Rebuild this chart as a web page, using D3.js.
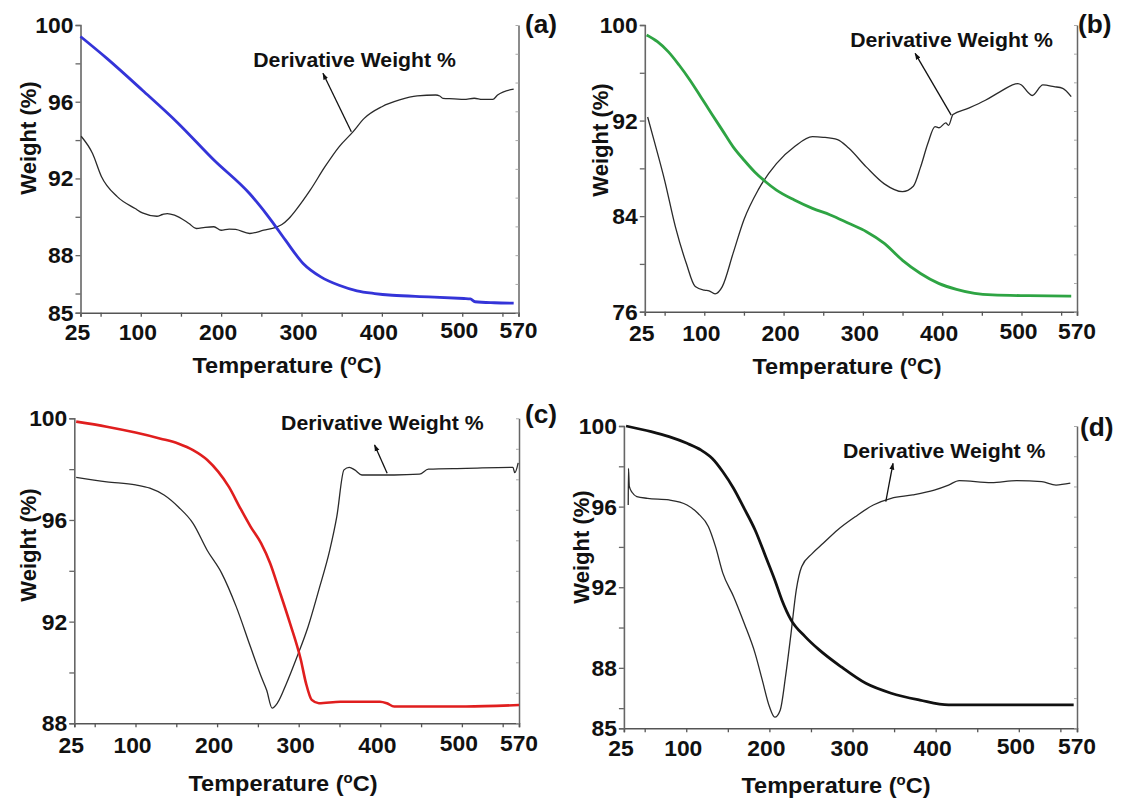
<!DOCTYPE html>
<html><head><meta charset="utf-8">
<script src="https://cdn.jsdelivr.net/npm/d3@7"></script>
<style>
html,body{margin:0;padding:0;background:#fff;}
text{font-family:"Liberation Sans",Arial,sans-serif;font-weight:bold;fill:#111;}
</style></head>
<body><svg id="chart" width="1126" height="801"></svg>
<script>
// ---------------- DATA ----------------
const xTickLabels = [25, 100, 200, 300, 400, 500, 570];
const xMinorTicks = [50, 150, 250, 350, 450, 550];

// (a) TGA (temperature °C, weight %)
const tgaA = [[25,99.4],[57.8,98.26],[102,96.6],[146.7,94.87],[191,92.96],[235.6,91.2],[262,89.83],[280,88.78],[302,87.57],[324,86.87],[346.7,86.43],[369,86.14],[391,86.0],[413,85.91],[458,85.83],[502,85.74],[510,85.72],[516,85.57],[540,85.52],[564,85.5]];
// (a) derivative curve (plotted on the weight-equivalent scale)
const derivA = [[25.8,94.2],[40,93.3],[51,92.1],[71,91.04],[93,90.43],[102,90.2],[120,90.03],[127,90.12],[133,90.17],[142,90.09],[160,89.65],[169,89.39],[180,89.45],[191,89.48],[200,89.3],[210,89.36],[218,89.34],[235.6,89.13],[253,89.3],[268,89.45],[275.6,89.6],[284,89.9],[293,90.35],[311,91.4],[329,92.6],[346.7,93.65],[364,94.43],[378,95.13],[400,95.74],[422,96.09],[444,96.3],[467,96.35],[472,96.3],[476,96.17],[490,96.15],[502,96.12],[515,96.18],[525,96.12],[538,96.12],[544,96.35],[564,96.66]];

// (b)
const tgaB = [[27.3,99.16],[40.9,98.6],[54.5,97.77],[68.2,96.65],[81.8,95.4],[95.5,94.0],[109,92.6],[122.7,91.2],[136.4,89.8],[150,88.7],[163.6,87.7],[177.3,86.88],[191,86.18],[213.6,85.35],[236.4,84.65],[259,84.1],[282,83.4],[304.5,82.7],[327,81.72],[350,80.3],[372.7,79.2],[395.5,78.37],[418,77.87],[441,77.53],[463.6,77.4],[509,77.34],[562.7,77.31]];
const derivB = [[28.6,92.3],[36.4,90.4],[50,87.0],[63.6,83.1],[77.3,80.05],[88.6,78.1],[100,77.8],[106,77.75],[113.6,77.5],[122.7,78.1],[136.4,80.9],[150,83.7],[168,86.2],[191,88.4],[213.6,89.8],[236.4,90.65],[250,90.6],[268,90.4],[282,89.7],[304.5,88.1],[327,86.7],[350,86.05],[363.6,86.5],[372.7,88.1],[382,90.1],[391,91.5],[396,91.4],[404.5,91.8],[408,91.6],[413.6,92.5],[431.8,93.0],[454.5,93.7],[472.7,94.4],[495.5,95.1],[500,94.98],[509,94.3],[513.6,94.1],[527,94.98],[541,94.84],[552,94.7],[562.7,94.0]];

// (c)
const tgaC = [[27.3,99.87],[64.8,99.67],[100,99.44],[130.8,99.2],[152.9,99.0],[170.5,98.75],[188,98.36],[201.3,97.9],[214.5,97.3],[227.8,96.5],[241,95.74],[254,95.08],[265,94.3],[276,93.25],[289.4,91.93],[302.6,90.5],[309,89.57],[316,88.92],[324.7,88.79],[351,88.85],[399.6,88.85],[408,88.79],[417,88.66],[461,88.66],[505,88.66],[570,88.72]];
const derivC = [[27.3,97.68],[64.8,97.5],[100,97.38],[117.6,97.25],[135,96.98],[152.9,96.5],[170.5,95.87],[188,94.8],[205.7,93.9],[223.3,92.6],[241,91.0],[254,89.84],[260.8,89.3],[267.4,88.6],[274,88.8],[285,89.57],[298,90.62],[311.5,91.8],[324.7,93.25],[338,94.8],[346.7,96.13],[355.5,97.97],[362,98.07],[368.7,97.97],[377.5,97.77],[417,97.77],[448,97.8],[459,98.0],[505,98.03],[562.6,98.07],[564.8,97.86],[569,98.25]];

// (d)
const tgaD = [[27.6,100],[57.8,99.72],[79.3,99.47],[100.9,99.14],[118,98.8],[131,98.4],[144,97.73],[157,96.9],[169.8,95.9],[182.8,94.84],[195.7,93.5],[206.5,92.36],[215,91.37],[226,90.38],[243,89.55],[260,88.89],[286,88.06],[316,87.23],[346.5,86.74],[381,86.4],[415.5,86.16],[467,86.16],[566,86.16]];
const derivD = [[30.2,96.08],[30.5,97.9],[31.5,97.0],[35,96.7],[40.5,96.5],[53.4,96.41],[79.3,96.33],[100.9,96.08],[114,95.67],[126.7,95.0],[135.3,94.0],[144,92.7],[157,91.53],[169.8,90.2],[182.8,88.72],[191.4,87.4],[200,86.08],[206.5,85.55],[213,85.9],[219.4,87.56],[226,89.7],[232.3,91.86],[238.8,93.02],[251.7,93.68],[264.7,94.18],[282,94.84],[303.4,95.5],[325,96.08],[346.5,96.41],[372.4,96.58],[398.3,96.82],[415.5,97.07],[428.4,97.29],[467,97.19],[497.4,97.29],[527.6,97.24],[544.8,97.07],[562,97.16]];

// annotation anchors (data coordinates): [text start T, text baseline W, arrow tail T, W, arrow tip T, W]
const annA = [240, 97.83, 362, 94.43, 326.7, 97.48];
const annB = [284, 98.19, 411.4, 92.46, 365.9, 97.63];
const annC = [278.4, 99.54, 408.4, 97.84, 393, 98.95];
const annD = [288.4, 98.4, 340, 96.25, 348.7, 98.15];

const yTicksA = [85, 88, 92, 96, 100], yMinorA = [86, 90, 94, 98];
const yTicksB = [76, 84, 92, 100],     yMinorB = [80, 88, 96];
const yTicksC = [88, 92, 96, 100],     yMinorC = [90, 94, 98];
const yTicksD = [85, 88, 92, 96, 100], yMinorD = [86, 90, 94, 98];

const annText = "Derivative Weight %";

// ---------------- LAYOUT ----------------
const panels = [
  {label:"(a)", x0:80.5, x1:518.5, yT:25, yB:312.7, yDom:[85,100], yTicks:yTicksA, yMinor:yMinorA, tga:tgaA, deriv:derivA, ann:annA, color:"#3434d8", tgaW:2.8,
   lab:[525,33], xTitle:[287,373], yTitle:[36,138], xLabOff:27},
  {label:"(b)", x0:644.8, x1:1077, yT:25, yB:311.7, yDom:[76,100], yTicks:yTicksB, yMinor:yMinorB, tga:tgaB, deriv:derivB, ann:annB, color:"#2ea443", tgaW:2.8,
   lab:[1078,33], xTitle:[847,374], yTitle:[608,140], xLabOff:29},
  {label:"(c)", x0:74.3, x1:519, yT:418.3, yB:723.3, yDom:[88,100], yTicks:yTicksC, yMinor:yMinorC, tga:tgaC, deriv:derivC, ann:annC, color:"#e01e1e", tgaW:2.6,
   lab:[525,423], xTitle:[283,791], yTitle:[36,545], xLabOff:30},
  {label:"(d)", x0:623.9, x1:1077, yT:426, yB:728.3, yDom:[85,100], yTicks:yTicksD, yMinor:yMinorD, tga:tgaD, deriv:derivD, ann:annD, color:"#111111", tgaW:2.8,
   lab:[1080,436], xTitle:[836,793], yTitle:[589,547], xLabOff:28}
];

const svg = d3.select("#chart");
svg.append("defs").append("marker")
  .attr("id","arr").attr("viewBox","0 0 10 10").attr("refX",9).attr("refY",5)
  .attr("markerWidth",7).attr("markerHeight",7).attr("orient","auto-start-reverse")
  .attr("markerUnits","userSpaceOnUse")
  .append("path").attr("d","M0,1.5 L10,5 L0,8.5 Z").attr("fill","#111");

function stretchText(g, x, y, s, size, sx, anchor) {
  return g.append("text")
    .attr("transform", `translate(${x},${y}) scale(${sx},1)`)
    .attr("text-anchor", anchor || "start")
    .style("font-size", size + "px")
    .text(s);
}

panels.forEach(p => {
  const g = svg.append("g");
  const x = d3.scaleLinear().domain([25, 570]).range([p.x0, p.x1]);
  const y = d3.scaleLinear().domain(p.yDom).range([p.yB, p.yT]);
  const y2 = d3.scaleLinear().domain([0, 1]).range([p.yB, p.yT]);

  const axisColor = "#555";
  // bottom axis
  const xa = g.append("g").attr("transform", `translate(0,${p.yB})`)
    .call(d3.axisBottom(x).tickValues(xTickLabels.concat(xMinorTicks)).tickSize(4).tickFormat(""));
  xa.select(".domain").attr("stroke", axisColor).attr("stroke-width", 1.6);
  xa.selectAll(".tick line").attr("stroke", axisColor).attr("stroke-width", 1.3);
  xTickLabels.forEach(v => {
    stretchText(g, x(v) - (v === 570 ? 0 : 3), p.yB + p.xLabOff - (v >= 500 ? 2 : 0), String(v), 22, 1.04, "middle");
  });

  // left axis
  const ya = g.append("g").attr("transform", `translate(${p.x0},0)`)
    .call(d3.axisLeft(y).tickValues(p.yTicks.concat(p.yMinor)).tickSize(5).tickFormat(""));
  ya.select(".domain").attr("stroke", "#666").attr("stroke-width", 1.6);
  ya.selectAll(".tick line").attr("stroke", "#666").attr("stroke-width", 1.3);
  p.yTicks.forEach(v => {
    stretchText(g, p.x0 - 7, y(v) + 8, String(v), 22, 1.04, "end");
  });

  // right axis (derivative, unlabelled)
  const ra = g.append("g").attr("transform", `translate(${p.x1},0)`)
    .call(d3.axisLeft(y2).ticks(10).tickSize(3).tickSizeOuter(0).tickFormat(""));
  ra.select(".domain").attr("stroke", "#666").attr("stroke-width", 1.5);
  ra.selectAll(".tick line").attr("stroke", "#aaa").attr("stroke-width", 1);

  // derivative curve
  g.append("path").datum(p.deriv)
    .attr("fill", "none").attr("stroke", "#2a2a2a").attr("stroke-width", 1.3)
    .attr("d", d3.line().x(d => x(d[0])).y(d => y(d[1])).curve(d3.curveMonotoneX));
  // TGA curve
  g.append("path").datum(p.tga)
    .attr("fill", "none").attr("stroke", p.color).attr("stroke-width", p.tgaW)
    .attr("stroke-linejoin", "round")
    .attr("d", d3.line().x(d => x(d[0])).y(d => y(d[1])).curve(d3.curveMonotoneX));

  // annotation
  const a = p.ann;
  stretchText(g, x(a[0]), y(a[1]), annText, 19.5, 1.09, "start");
  g.append("line")
    .attr("x1", x(a[2])).attr("y1", y(a[3]))
    .attr("x2", x(a[4])).attr("y2", y(a[5]))
    .attr("stroke", "#111").attr("stroke-width", 1.3)
    .attr("marker-end", "url(#arr)");

  // panel label
  stretchText(g, p.lab[0], p.lab[1], p.label, 25, 1.05, "start");

  // x title
  const xt = g.append("text")
    .attr("transform", `translate(${p.xTitle[0]},${p.xTitle[1]}) scale(1.07,1)`)
    .attr("text-anchor", "middle").style("font-size", "22px");
  xt.append("tspan").text("Temperature (");
  xt.append("tspan").attr("dy", -8).style("font-size", "14px").text("o");
  xt.append("tspan").attr("dy", 8).text("C)");

  // y title
  g.append("text")
    .attr("transform", `translate(${p.yTitle[0]},${p.yTitle[1]}) rotate(-90)`)
    .attr("text-anchor", "middle").style("font-size", "22px")
    .text("Weight (%)");
});
</script></body></html>
